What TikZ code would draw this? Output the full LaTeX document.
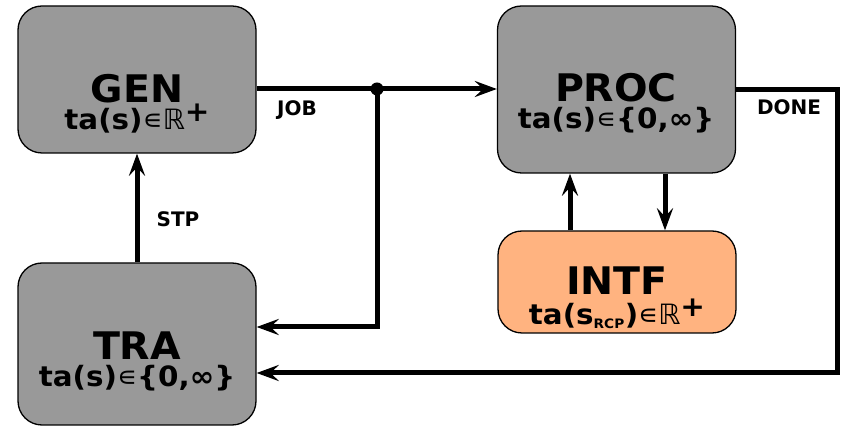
\documentclass[tikz,border=0pt]{standalone}
\usepackage{fontspec}
\setmainfont{DejaVu Sans}
\newfontfamily\dvreg{DejaVu Sans}
\newfontfamily\titlefont[FakeStretch=1.04]{DejaVu Sans}
\newfontfamily\subfont[FakeStretch=1.05]{DejaVu Sans}
\usetikzlibrary{arrows.meta,positioning,calc}
\definecolor{boxgray}{HTML}{999999}
\definecolor{intforange}{HTML}{FFB380}
\tikzset{
  block/.style={draw=black, line width=1.3pt, rounded corners=24pt, fill=boxgray,
    minimum width=238pt, inner sep=0pt},
  title/.style={font=\titlefont\fontsize{38}{40}\selectfont\bfseries, anchor=base,
    inner sep=0pt, text depth=0pt},
  sub/.style={font=\subfont\fontsize{28}{30}\selectfont\bfseries, anchor=base, inner sep=0pt},
  flow/.style={line width=5pt, -{Stealth[length=22pt,width=16pt,inset=8pt]}},
  elabel/.style={font=\fontsize{20}{21}\selectfont\bfseries, anchor=base, inner sep=0pt}
}
\newcommand{\elm}{{\dvreg\mdseries ∊}}
\newcommand{\realsplus}{{\dvreg\mdseries ℝ}\raisebox{0.32em}{+}}
\begin{document}
\begin{tikzpicture}[x=1pt,y=-1pt]
\useasboundingbox (0,0) rectangle (844,427);
% blocks
\node[block, minimum height=147pt] (gen) at (137,79.5) {};
\node[block, minimum height=162pt] (tra) at (137,344) {};
\node[block, minimum height=167pt] (proc) at (616.5,89.5) {};
\node[block, minimum height=102pt, fill=intforange] (intf) at (617,282) {};
% texts
\node[title] (gent) at (137,103) {GEN};
\node[sub] (gens) at (137,130) {ta(s)\elm\realsplus};
\node[title] (trat) at (137,360) {TRA};
\node[sub] (tras) at (137,387) {ta(s)\elm\{0,∞\}};
\node[title] (proct) at (616,102) {PROC};
\node[sub] (procs) at (616,129) {ta(s)\elm\{0,∞\}};
\node[title] (intft) at (617,295) {INTF};
\node[sub] (intfs) at (617,325) {ta(s\textsubscript{\fontsize{13}{13}\selectfont RCP})\elm\realsplus};
% bends
\coordinate (jn) at (377,89);
\coordinate (jb) at (377,327);
\coordinate (dn) at (837,90);
\coordinate (db) at (837,373);
\coordinate (up) at (570,0);
\coordinate (dw) at (665,0);
% connectors
\draw[flow] (gen.east |- jn) -- (proc.west |- jn);
\draw[flow] (jn) -- (jb) -- (tra.east |- jb);
\fill (jn) circle (6.5pt);
\draw[flow] (proc.east |- dn) -- (dn) -- (db) -- (tra.east |- db);
\draw[flow] (tra.north) -- (gen.south);
\draw[flow] (intf.north -| up) -- (proc.south -| up);
\draw[flow] (proc.south -| dw) -- (intf.north -| dw);
% labels
\node[elabel] (job) at (297,116) {JOB};
\node[elabel] (done) at (789,115) {DONE};
\node[elabel] (stp) at (178,227) {STP};
\end{tikzpicture}
\end{document}
